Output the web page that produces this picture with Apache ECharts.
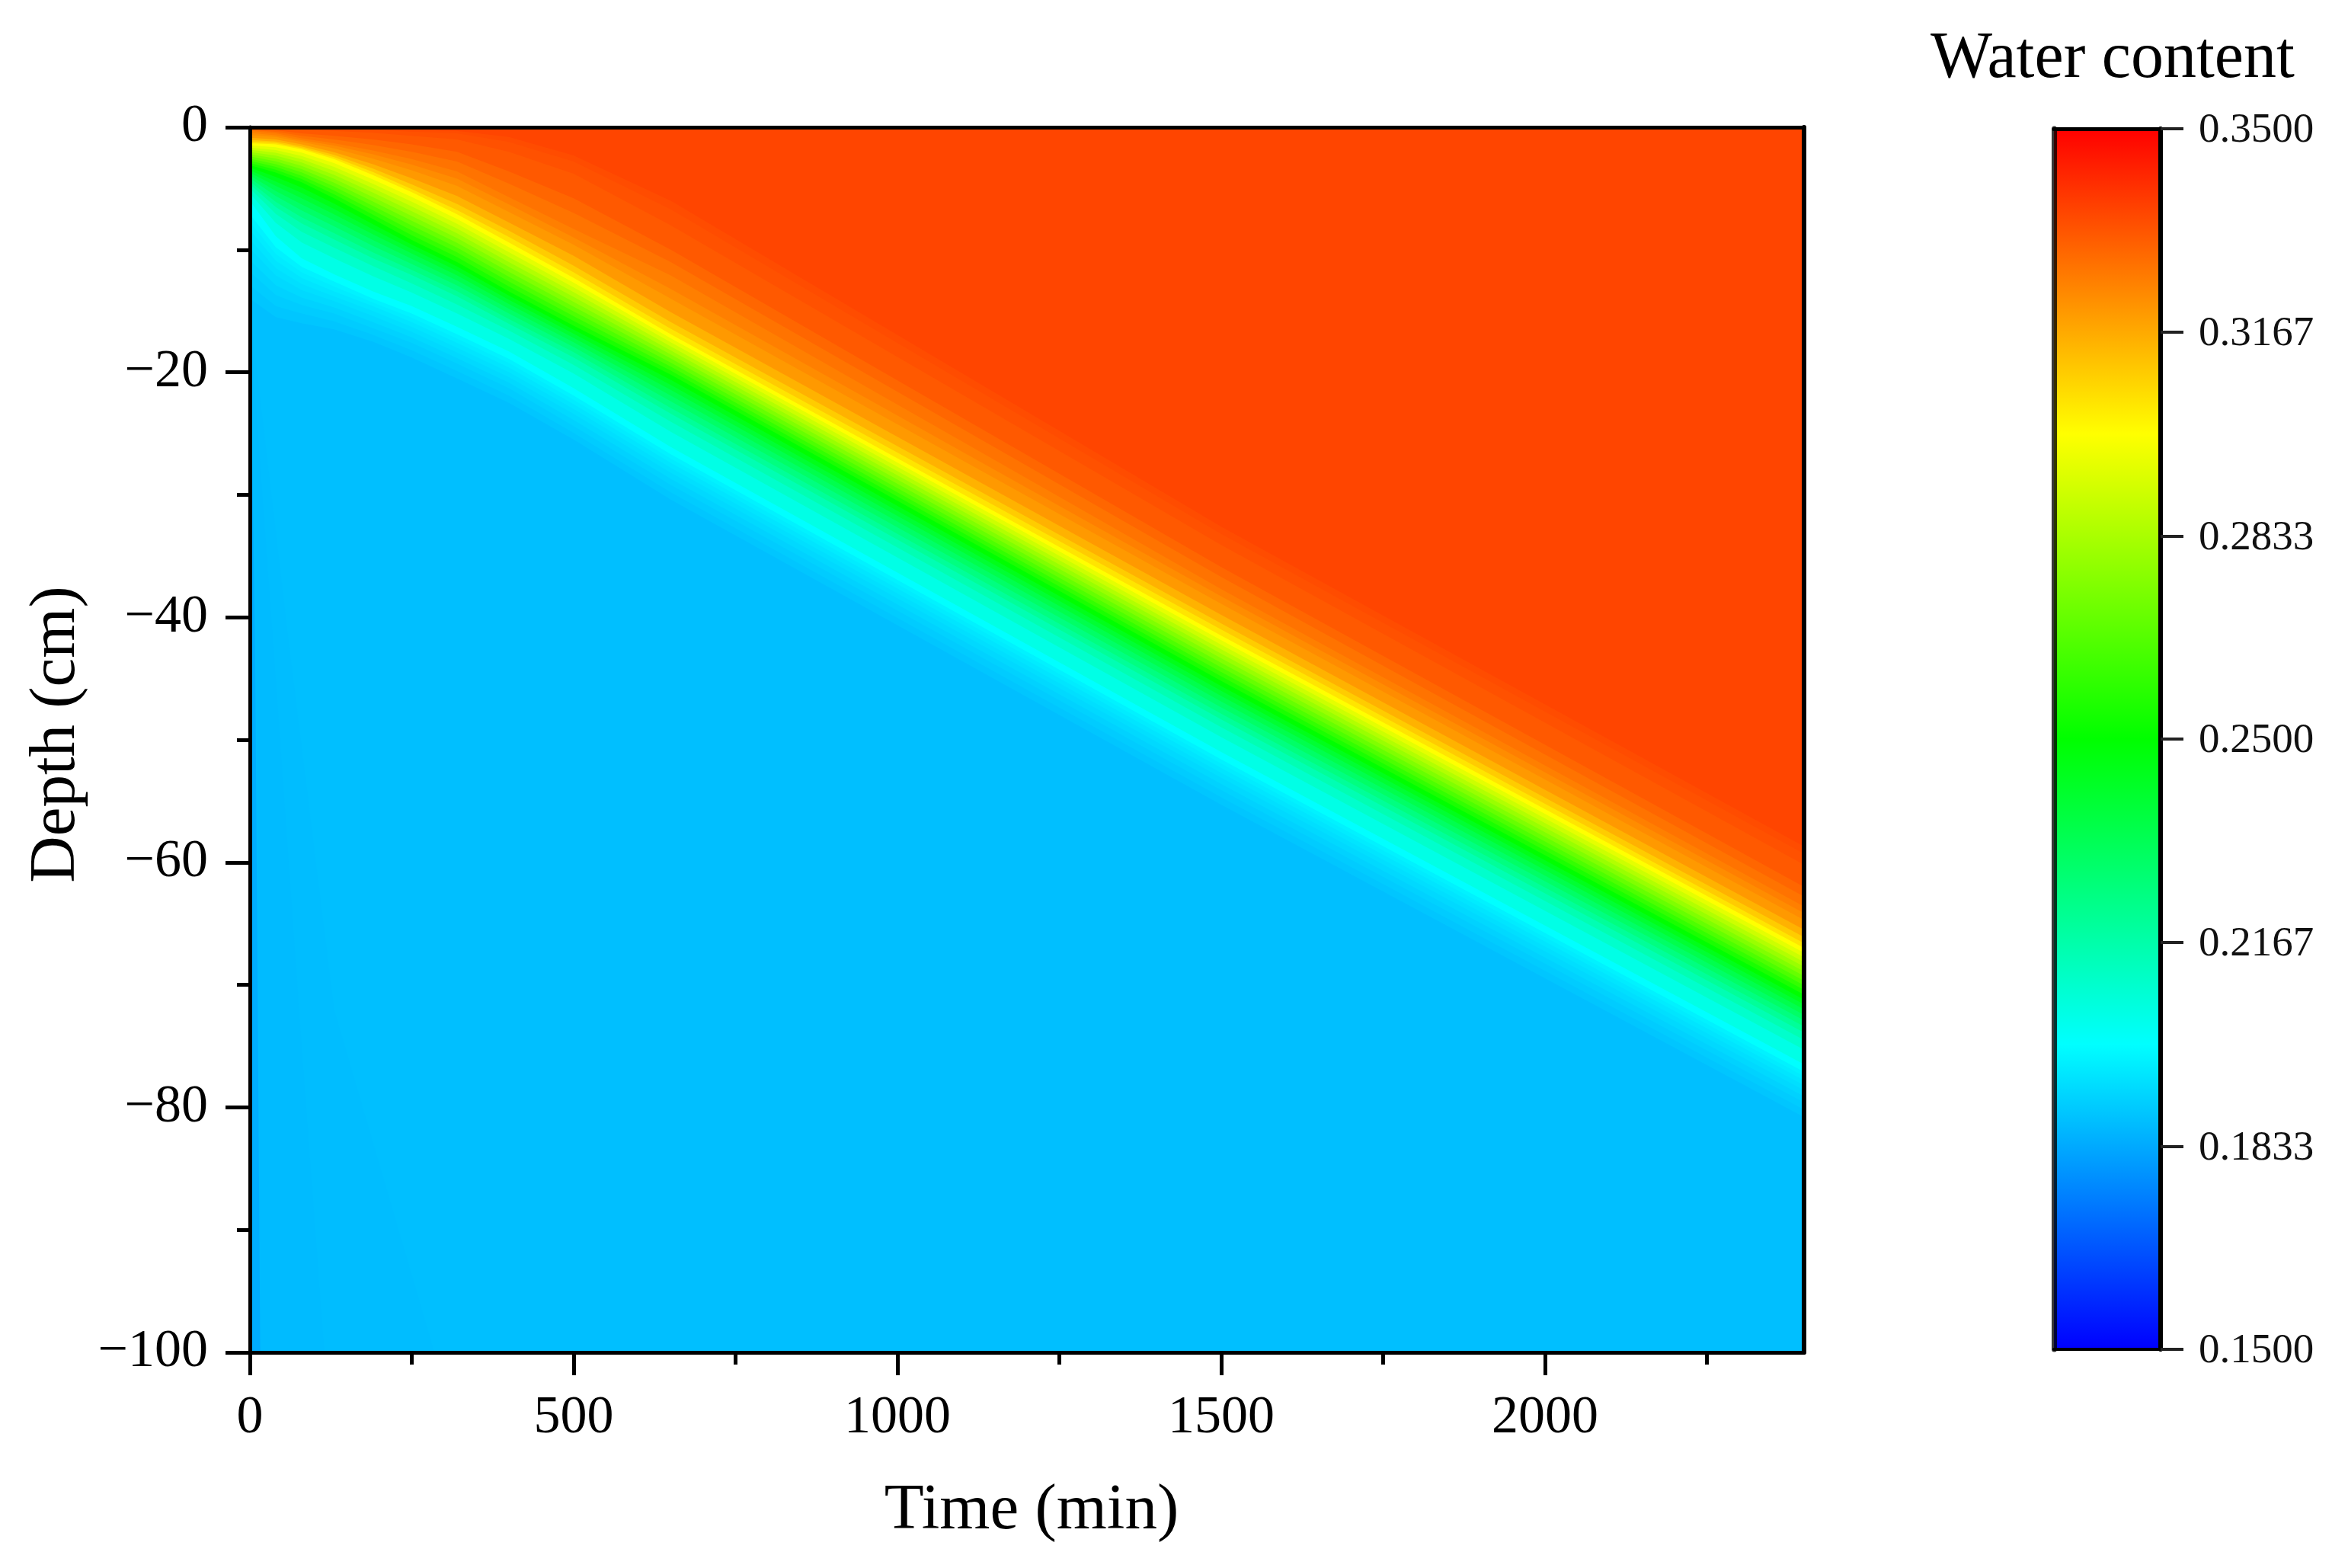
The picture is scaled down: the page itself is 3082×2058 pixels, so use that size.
<!DOCTYPE html>
<html><head><meta charset="utf-8">
<style>html,body{margin:0;padding:0;background:#fff}#c{width:3082px;height:2058px}</style>
<script src="https://cdn.jsdelivr.net/npm/echarts@6/dist/echarts.min.js"></script>
</head><body><div id="c"></div>
<script>
// Time columns (min) at which each water-content contour depth (cm) was read
const times = [0,40,80,130,190,250,320,400,500,650,1500,2400];
const L3350 = [0,0,0,0,0.1,0.2,0.3,0.8,2.3,6.0,32.6,58.7];
const L3342 = [0,0,0.05,0.1,0.2,0.35,0.5,1.2,2.8,6.7,33.2,59.3];
const L3325 = [0.05,0.1,0.2,0.3,0.45,0.7,1.0,2.0,3.8,8.0,34.1,60.2];
const L3300 = [0.15,0.25,0.5,0.7,1.0,1.4,2.0,3.6,5.8,10.0,35.9,62.0];
const L3275 = [0.22,0.38,0.7,1.0,1.45,2.0,2.8,4.6,7.0,11.0,36.7,62.8];
const L3250 = [0.3,0.5,0.9,1.3,1.9,2.6,3.6,5.7,8.3,12.1,37.7,63.6];
const L3225 = [0.46,0.65,1.05,1.5,2.2,3.05,4.2,6.3,9.0,13.2,38.3,64.15];
const L3200 = [0.63,0.8,1.2,1.73,2.56,3.52,4.79,6.92,9.6,14.0,38.9,64.7];
const L3150 = [0.86,1.0,1.4,2.03,3.02,4.17,5.62,7.77,10.5,15.1,39.8,65.5];
const L3100 = [1.04,1.17,1.57,2.26,3.38,4.67,6.26,8.44,11.3,15.9,40.5,66.1];
const L3050 = [1.18,1.29,1.69,2.44,3.66,5.06,6.77,8.96,11.85,16.45,41.0,66.6];
const L3000 = [1.3,1.4,1.8,2.6,3.9,5.3,7.1,9.4,12.3,16.9,41.5,67.0];
const L2950 = [1.48,1.63,2.07,2.92,4.26,5.69,7.49,9.8,12.69,17.23,41.87,67.38];
const L2900 = [1.66,1.86,2.34,3.24,4.62,6.08,7.88,10.2,13.08,17.56,42.24,67.76];
const L2850 = [1.84,2.09,2.61,3.56,4.98,6.47,8.27,10.6,13.47,17.89,42.61,68.14];
const L2800 = [2.02,2.32,2.88,3.88,5.34,6.86,8.66,11.0,13.86,18.22,42.98,68.52];
const L2750 = [2.2,2.55,3.15,4.2,5.7,7.25,9.05,11.4,14.25,18.55,43.35,68.9];
const L2700 = [2.38,2.78,3.42,4.52,6.06,7.64,9.44,11.8,14.64,18.88,43.72,69.28];
const L2650 = [2.56,3.01,3.69,4.84,6.42,8.03,9.83,12.2,15.03,19.21,44.09,69.66];
const L2600 = [2.74,3.24,3.96,5.16,6.78,8.42,10.22,12.6,15.42,19.54,44.46,70.04];
const L2550 = [2.92,3.47,4.23,5.48,7.14,8.81,10.61,13.0,15.81,19.87,44.83,70.42];
const L2500 = [3.1,3.7,4.5,5.8,7.5,9.2,11.0,13.4,16.2,20.2,45.2,70.8];
const L2450 = [3.3,4.06,4.93,6.23,7.91,9.57,11.36,13.74,16.53,20.61,45.61,71.2];
const L2400 = [3.51,4.43,5.37,6.67,8.33,9.94,11.73,14.09,16.86,21.03,46.01,71.6];
const L2350 = [3.71,4.79,5.8,7.1,8.74,10.31,12.09,14.43,17.19,21.44,46.42,72.0];
const L2300 = [3.94,5.21,6.3,7.6,9.21,10.74,12.51,14.82,17.56,21.91,46.88,72.45];
const L2250 = [4.17,5.62,6.79,8.09,9.68,11.16,12.92,15.21,17.94,22.38,47.35,72.9];
const L2200 = [4.43,6.09,7.35,8.65,10.21,11.64,13.39,15.65,18.36,22.91,47.87,73.4];
const L2150 = [4.67,6.51,7.85,9.15,10.69,12.06,13.81,16.05,18.8,23.39,48.33,73.9];
const L2100 = [4.99,7.08,8.53,9.83,11.34,12.75,14.48,16.59,19.4,24.04,48.97,74.5];
const L2050 = [5.39,7.81,9.4,10.7,12.16,13.49,15.21,17.27,20.1,24.86,49.78,75.3];
const L2000 = [6.0,8.9,10.7,12.0,13.4,14.6,16.3,18.3,21.3,26.1,51.0,76.5];
const L1975 = [7.1,9.8,11.4,12.6,14.0,15.2,16.9,18.9,21.9,26.7,51.6,77.1];
const L1962 = [7.75,10.35,11.85,13.0,14.3,15.55,17.25,19.25,22.25,27.05,51.95,77.45];
const L1950 = [8.4,10.9,12.3,13.4,14.6,15.9,17.6,19.6,22.6,27.4,52.3,77.8];
const L1937 = [9.15,11.5,12.8,13.8,15.0,16.3,18.0,20.0,23.0,27.8,52.7,78.2];
const L1925 = [9.9,12.1,13.3,14.2,15.4,16.7,18.4,20.4,23.4,28.2,53.1,78.6];
const L1912 = [10.85,12.9,13.9,14.7,15.9,17.15,18.85,20.85,23.9,28.7,53.6,79.1];
const L1900 = [11.8,13.7,14.5,15.2,16.4,17.6,19.3,21.3,24.4,29.2,54.1,79.6];
const L1888 = [12.9,14.6,15.2,15.85,16.95,18.2,19.9,21.9,24.95,29.8,54.7,80.2];
const L1875 = [14,15.5,16,16.5,17.5,18.8,20.5,22.5,25.5,30.4,55.3,80.8];
const contours = [
 [0.335,L3350],[0.3342,L3342],[0.3325,L3325],[0.33,L3300],[0.3275,L3275],[0.325,L3250],[0.3225,L3225],
 [0.32,L3200],[0.315,L3150],[0.31,L3100],[0.305,L3050],
 [0.30,L3000],[0.295,L2950],[0.29,L2900],[0.285,L2850],[0.28,L2800],[0.275,L2750],[0.27,L2700],
 [0.265,L2650],[0.26,L2600],[0.255,L2550],[0.25,L2500],[0.245,L2450],[0.24,L2400],[0.235,L2350],
 [0.23,L2300],[0.225,L2250],[0.22,L2200],[0.215,L2150],[0.21,L2100],[0.205,L2050],[0.20,L2000],
 [0.1975,L1975],[0.1962,L1962],[0.195,L1950],[0.1937,L1937],[0.1925,L1925],[0.1912,L1912],
 [0.19,L1900],[0.1888,L1888],[0.1875,L1875]];
// Faint early-time streaks in the deep soil: [water content, times, depths]
const streakWide = [0.1871,[0,60,130,285],[15,42,72,100]];
const streakMid = [0.1866,[0,40,80,115],[16,45,75,100]];
const streakEdge = [0.184,[0,8,16],[15,42,100]];

const xMajorTicks = [0,500,1000,1500,2000];
const xMinorTicks = [250,750,1250,1750,2250];
const barTicks = [0.15,0.1833,0.2167,0.25,0.2833,0.3167,0.35];
const topValue = 0.3365;
const colorStops = [[0.15,'#0000ff'],[0.2,'#00ffff'],[0.25,'#00ff00'],[0.3,'#ffff00'],[0.35,'#ff0000']];

function hex(c){return [1,3,5].map(i=>parseInt(c.substr(i,2),16));}
function colorOf(v){
  for(let i=1;i<colorStops.length;i++){
    if(v<=colorStops[i][0]){
      const a=colorStops[i-1],b=colorStops[i],f=(v-a[0])/(b[0]-a[0]);
      const p=hex(a[1]),q=hex(b[1]);
      return 'rgb('+p.map((x,k)=>Math.round(x+(q[k]-x)*f)).join(',')+')';
    }
  }
  return colorStops[colorStops.length-1][1];
}
const FONT='"Liberation Serif"';
function band(t,d,v){
  return {type:'line',xAxisIndex:0,yAxisIndex:0,symbol:'none',silent:true,animation:false,
    lineStyle:{width:0},areaStyle:{origin:'start',color:colorOf(v),opacity:1},
    data:t.map((x,i)=>[x,-d[i]])};
}
const series=contours.map(c=>band(times,c[1],c[0]));
series.push(band(streakWide[1],streakWide[2],streakWide[0]));
series.push(band(streakMid[1],streakMid[2],streakMid[0]));
series.push(band(streakEdge[1],streakEdge[2],streakEdge[0]));
// colour bar
series.push({type:'line',xAxisIndex:2,yAxisIndex:2,symbol:'none',silent:true,animation:false,
  lineStyle:{width:0},
  areaStyle:{origin:'start',opacity:1,color:new echarts.graphic.LinearGradient(0,1,0,0,
    colorStops.map(s=>({offset:(s[0]-0.15)/0.2,color:s[1]})))},
  data:[[0,0.35],[1,0.35]]});

const black='#000';
const plain={show:false};
const chart=echarts.init(document.getElementById('c'),null,{renderer:'canvas'});
chart.setOption({
  backgroundColor:'#fff',animation:false,
  title:{text:'Water content',left:2768,top:30,textAlign:'center',
    textStyle:{fontFamily:FONT,fontSize:86,fontWeight:'normal',color:black}},
  grid:[{left:328,top:167,width:2040,height:1608,show:true,backgroundColor:colorOf(topValue),borderWidth:0,outerBoundsMode:'none'},
        {left:2696,top:169,width:140,height:1602,show:false,outerBoundsMode:'none'},
        {left:328,top:167,width:2040,height:1608,show:false,outerBoundsMode:'none'},
        {left:2696,top:172,width:140,height:1602,show:false,outerBoundsMode:'none'}],
  xAxis:[
   {gridIndex:0,type:'value',min:0,max:2400,position:'bottom',z:10,splitLine:plain,
    name:'Time (min)',nameLocation:'middle',nameGap:166,
    nameTextStyle:{fontFamily:FONT,fontSize:85,color:black,padding:[0,0,0,12]},
    axisLine:{show:true,onZero:false,lineStyle:{color:black,width:5}},
    axisTick:{show:true,customValues:xMajorTicks,length:30,lineStyle:{color:black,width:5}},
    axisLabel:{customValues:xMajorTicks,margin:52,fontFamily:FONT,fontSize:70,color:black,formatter:v=>String(v)}},
   {gridIndex:0,type:'value',min:0,max:2400,position:'top',z:10,splitLine:plain,
    axisLabel:plain,axisTick:plain,
    axisLine:{show:true,onZero:false,lineStyle:{color:black,width:5}}},
   {gridIndex:1,type:'value',min:0,max:1,position:'bottom',z:10,splitLine:plain,
    axisLabel:plain,axisTick:plain,
    axisLine:{show:true,onZero:false,lineStyle:{color:black,width:4}}},
   {gridIndex:1,type:'value',min:0,max:1,position:'top',z:10,splitLine:plain,
    axisLabel:plain,axisTick:plain,
    axisLine:{show:true,onZero:false,lineStyle:{color:black,width:5}}},
   {gridIndex:2,type:'value',min:0,max:2400,position:'bottom',z:10,splitLine:plain,
    axisLine:{show:false,onZero:false},axisLabel:plain,
    axisTick:{show:true,customValues:xMinorTicks,length:16,lineStyle:{color:black,width:5}}},
   {gridIndex:3,type:'value',min:0,max:1,show:false}
  ],
  yAxis:[
   {gridIndex:0,type:'value',min:-100,max:0,interval:20,position:'left',z:10,splitLine:plain,
    name:'Depth (cm)',nameLocation:'middle',nameGap:188,nameRotate:90,
    nameTextStyle:{fontFamily:FONT,fontSize:85,color:black,padding:[0,0,0,14]},
    axisLine:{show:true,onZero:false,lineStyle:{color:black,width:5}},
    axisTick:{show:true,length:32,lineStyle:{color:black,width:5}},
    minorTick:{show:true,splitNumber:2,length:17,lineStyle:{color:black,width:5}},
    axisLabel:{margin:55,fontFamily:FONT,fontSize:70,color:black,verticalAlignMaxLabel:'middle',verticalAlignMinLabel:'middle',
      formatter:v=>String(v).replace('-','\u2212')}},
   {gridIndex:0,type:'value',min:-100,max:0,position:'right',z:10,splitLine:plain,
    axisLabel:plain,axisTick:plain,
    axisLine:{show:true,onZero:false,lineStyle:{color:black,width:6}}},
   {gridIndex:1,type:'value',min:0.15,max:0.35,position:'right',z:10,splitLine:plain,
    axisLine:{show:true,onZero:false,lineStyle:{color:black,width:6}},
    axisTick:{show:true,customValues:barTicks,length:30,lineStyle:{color:'#222',width:4}},
    axisLabel:plain},
   {gridIndex:1,type:'value',min:0.15,max:0.35,position:'left',z:10,splitLine:plain,
    axisLabel:plain,axisTick:plain,
    axisLine:{show:true,onZero:false,lineStyle:{color:'rgba(0,0,0,0.78)',width:7}}},
   {gridIndex:2,type:'value',min:-100,max:0,show:false},
   {gridIndex:3,type:'value',min:0.15,max:0.35,position:'right',z:10,splitLine:plain,
    axisLine:{show:false,onZero:false},axisTick:plain,
    axisLabel:{customValues:barTicks,margin:50,fontFamily:FONT,fontSize:55,color:'#111',verticalAlignMaxLabel:'middle',verticalAlignMinLabel:'middle',
      formatter:v=>v.toFixed(4)}}
  ],
  series:series
});
</script></body></html>
